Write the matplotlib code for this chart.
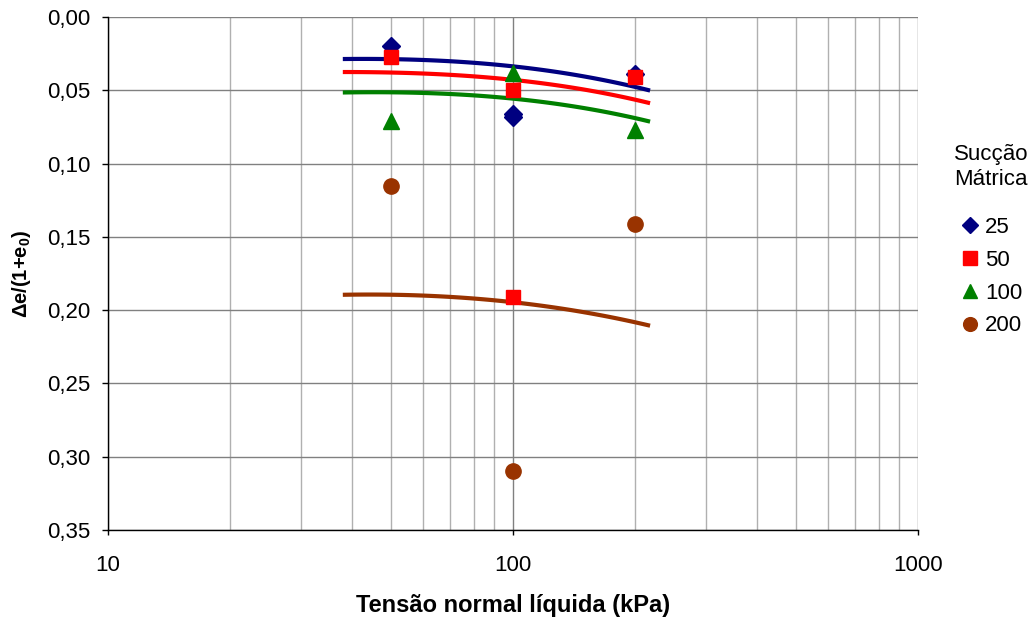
import numpy as np
import matplotlib.pyplot as plt
from matplotlib.ticker import FuncFormatter, LogLocator, FixedLocator

plt.rcParams['font.family'] = ['Liberation Sans', 'DejaVu Sans']
plt.rcParams['mathtext.fontset'] = 'custom'
plt.rcParams['mathtext.rm'] = 'Liberation Sans'
plt.rcParams['mathtext.bf'] = 'Liberation Sans:bold'

# measured points (net normal stress, kPa)
x_25 = [50, 100, 100, 200]
y_25 = [0.020, 0.066, 0.068, 0.039]
x_50 = [50, 100, 200, 100]
y_50 = [0.027, 0.050, 0.041, 0.191]
x_100 = [50, 100, 200]
y_100 = [0.071, 0.038, 0.077]
x_200 = [50, 100, 200]
y_200 = [0.115, 0.310, 0.141]

# trend lines
trend_x = [38, 50, 68.5, 99, 146, 218]
trend_25 = [0.0289, 0.0282, 0.0303, 0.0339, 0.0396, 0.0503]
trend_50 = [0.0377, 0.0375, 0.0395, 0.0430, 0.0487, 0.0589]
trend_100 = [0.0516, 0.0511, 0.0527, 0.0555, 0.0616, 0.0714]
trend_200 = [0.1896, 0.1892, 0.1912, 0.1942, 0.2010, 0.2106]

c25, c50, c100, c200 = '#000080', '#FF0000', '#008000', '#993300'

fig = plt.figure(figsize=(10.32, 6.17), dpi=100)
ax = fig.add_axes([108/1032, 1-530/617, 810/1032, 513/617])

# smooth the read trend points in log space for drawing
def smooth(xs, ys):
    lx = np.log10(xs)
    xx = np.linspace(lx[0], lx[-1], 100)
    coef = np.polyfit(lx, ys, 3)
    return 10**xx, np.polyval(coef, xx)

for ty, c in [(trend_25, c25), (trend_50, c50), (trend_100, c100), (trend_200, c200)]:
    sx, sy = smooth(trend_x, ty)
    ax.plot(sx, sy, color=c, lw=3, zorder=3, solid_capstyle='butt')

ax.plot(x_200, y_200, 'o', color=c200, ms=11, ls='none', label='200', zorder=4)
ax.plot(x_100, y_100, '^', color=c100, ms=11, ls='none', label='100', zorder=4)
ax.plot(x_25, y_25, 'D', color=c25, ms=9, ls='none', label='25', zorder=4)
ax.plot(x_50, y_50, 's', color=c50, ms=10.5, ls='none', label='50', zorder=5)

ax.set_xscale('log')
ax.set_xlim(10, 1000)
ax.set_ylim(0.35, 0.0)
ax.set_yticks(np.arange(0, 0.351, 0.05))
ax.yaxis.set_major_formatter(FuncFormatter(lambda v, p: f'{v:.2f}'.replace('.', ',')))
ax.xaxis.set_major_locator(FixedLocator([10, 100, 1000]))
ax.xaxis.set_major_formatter(FuncFormatter(lambda v, p: f'{v:g}'))
ax.xaxis.set_minor_locator(LogLocator(base=10, subs=np.arange(2, 10)))
ax.xaxis.set_minor_formatter(FuncFormatter(lambda v, p: ''))

ax.grid(True, which='major', color='#808080', lw=1)
ax.grid(True, which='minor', axis='x', color='#b0b0b0', lw=1)
ax.set_axisbelow(True)
for s in ['top', 'right']:
    ax.spines[s].set_visible(False)
for s in ['left', 'bottom']:
    ax.spines[s].set_color('black')
    ax.spines[s].set_linewidth(1)

ax.tick_params(axis='y', which='major', direction='out', length=4.5, width=1, labelsize=16, pad=8)
ax.tick_params(axis='x', which='major', direction='out', length=3.6, width=1, labelsize=16, pad=14.5)
ax.tick_params(axis='x', which='minor', length=0)

ax.set_xlabel('Tensão normal líquida (kPa)', fontsize=17, fontweight='bold', labelpad=13)
ax.set_ylabel('Δe/(1+e$_\\mathbf{0}$)', fontsize=14.5, fontweight='bold', labelpad=10)

handles, labels = ax.get_legend_handles_labels()
order = [labels.index(k) for k in ['25', '50', '100', '200']]
fig.text(991/1032, 1-167/617, 'Sucção\nMátrica', ha='center', va='center',
         multialignment='center', fontsize=16)
leg = fig.legend([handles[i] for i in order], [labels[i] for i in order],
                 loc='upper left', bbox_to_anchor=(959/1032, 1-217/617),
                 frameon=False, fontsize=16, handlelength=1.0, borderpad=0,
                 borderaxespad=0, handletextpad=0.18, markerscale=0.9,
                 labelspacing=0.53)

fig.savefig('out.png', dpi=100)
